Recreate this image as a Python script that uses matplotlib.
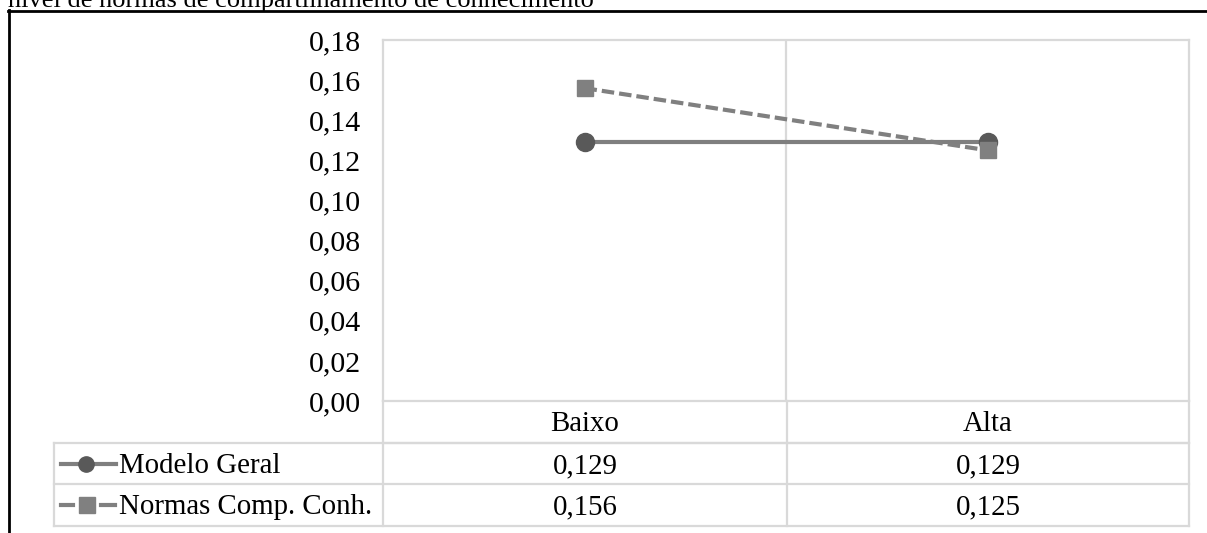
import matplotlib
matplotlib.use("Agg")
import matplotlib.pyplot as plt
from matplotlib.lines import Line2D
from matplotlib.ticker import FixedLocator, FuncFormatter

plt.rcParams['font.family'] = ['Liberation Serif', 'DejaVu Serif']

categories = ["Baixo", "Alta"]
series_names = ["Modelo Geral", "Normas Comp. Conh."]
modelo_geral = [0.129, 0.129]
normas = [0.156, 0.125]
table_labels = [["0,129", "0,129"], ["0,156", "0,125"]]
y_ticks = [0.00, 0.02, 0.04, 0.06, 0.08, 0.10, 0.12, 0.14, 0.16, 0.18]
title = "nível de normas de compartilhamento de conhecimento"

W, H = 1207, 533
fig = plt.figure(figsize=(W / 100, H / 100), dpi=100)

def fx(x):
    return x / W

def fy(y):
    return 1 - y / H

GRID = "#d9d9d9"
FS = 20.8

# Plot area
L, R, T, B = 383, 1189, 40, 401
ax = fig.add_axes([fx(L), fy(B), fx(R) - fx(L), fy(T) - fy(B)])
ax.set_xlim(-0.5, 1.5)
ax.set_ylim(0, 0.18)
for s in ax.spines.values():
    s.set_color(GRID)
    s.set_linewidth(1.6)
ax.set_xticks([])
ax.yaxis.set_major_locator(FixedLocator(y_ticks))
ax.yaxis.set_major_formatter(FuncFormatter(lambda v, p: f"{v:.2f}".replace(".", ",")))
ax.tick_params(axis='y', length=0, pad=16, labelsize=21.5)
ax.axvline(0.5, color=GRID, lw=1.6, zorder=0)

x = list(range(len(categories)))
ax.plot(x, modelo_geral, color="#7f7f7f", lw=3, marker="o", ms=13,
        mfc="#595959", mec="#595959", zorder=3, clip_on=False)
ax.plot(x, normas, color="#808080", lw=3, ls=(0, (3, 1.2)), marker="s", ms=12,
        mfc="#808080", mec="#808080", zorder=4, clip_on=False)

# Table lines
fig.add_artist(Line2D([fx(383), fx(1189)], [fy(443), fy(443)], color=GRID, lw=1.6))
for yy in [443, 484, 526]:
    fig.add_artist(Line2D([fx(54), fx(1189)], [fy(yy), fy(yy)], color=GRID, lw=1.6))
fig.add_artist(Line2D([fx(54), fx(54)], [fy(443), fy(526)], color=GRID, lw=1.6))
for xx in [383, 787, 1189]:
    fig.add_artist(Line2D([fx(xx), fx(xx)], [fy(401), fy(526)], color=GRID, lw=1.6))

# category row
centers = [(383 + 787) / 2, (787 + 1189) / 2]
for c, cx in zip(categories, centers):
    fig.text(fx(cx), fy(424), c, ha="center", va="center", fontsize=FS)
# value rows
row_centers = [466, 507]
for r, ry in enumerate(row_centers):
    for c, cx in enumerate(centers):
        fig.text(fx(cx), fy(ry), table_labels[r][c], ha="center", va="center", fontsize=FS)

# legend keys
fig.add_artist(Line2D([fx(61), fx(116)], [fy(464), fy(464)], color="#7f7f7f", lw=3))
fig.add_artist(Line2D([fx(86)], [fy(464)], marker="o", ms=11, color="#595959", lw=0))
fig.add_artist(Line2D([fx(61), fx(73)], [fy(505), fy(505)], color="#808080", lw=3))
fig.add_artist(Line2D([fx(101), fx(115)], [fy(505), fy(505)], color="#808080", lw=3))
fig.add_artist(Line2D([fx(87)], [fy(505)], marker="s", ms=11, color="#808080", lw=0))
fig.text(fx(119), fy(466), series_names[0], ha="left", va="center", fontsize=FS)
fig.text(fx(119), fy(507), series_names[1], ha="left", va="center", fontsize=FS)

# outer border (cut off)
fig.add_artist(Line2D([fx(8), fx(1207)], [fy(11), fy(11)], color="black", lw=2))
fig.add_artist(Line2D([fx(9), fx(9)], [fy(10), fy(533)], color="black", lw=2))

# title (partially cut at top, as in the reference)
fig.text(fx(8), fy(7.5), title, ha="left", va="baseline", fontsize=19)

fig.savefig("out.png", dpi=100)
